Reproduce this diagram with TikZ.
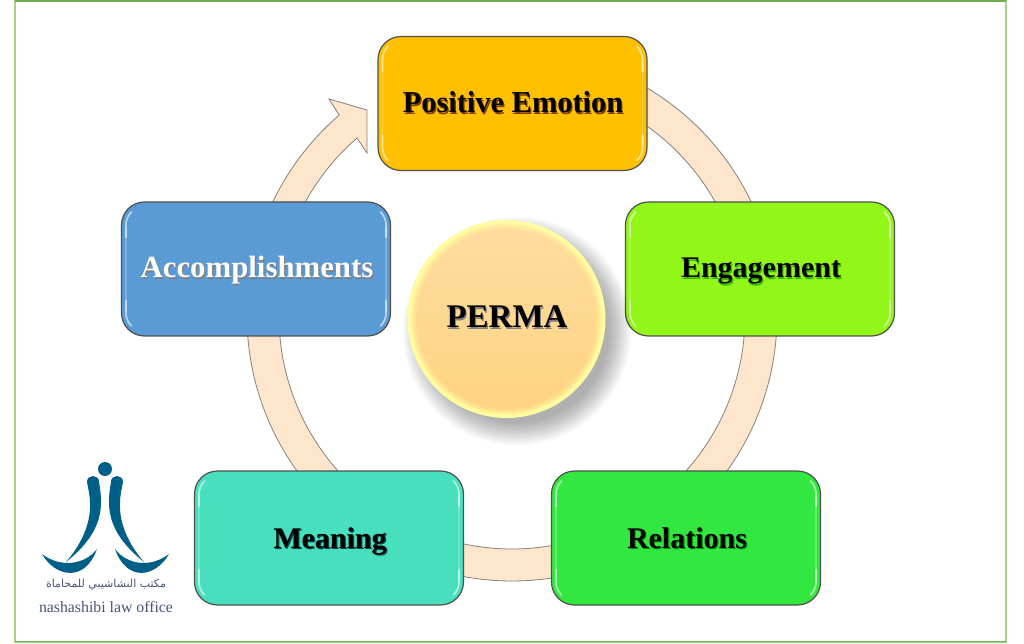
\documentclass[tikz,border=0pt]{standalone}
\usepackage{fontspec}
\setmainfont{Liberation Serif}
\newfontfamily\arabicfont[Script=Arabic]{DejaVu Sans}
\TeXXeTstate=1
\usetikzlibrary{calc}
\definecolor{ringfill}{HTML}{FEE6CC}
\definecolor{ringline}{HTML}{86827C}
\definecolor{boxline}{HTML}{505050}
\definecolor{logoteal}{HTML}{005F87}
\definecolor{logotext}{HTML}{46557F}
\definecolor{frametop}{HTML}{70B04A}
\definecolor{frameside}{HTML}{A9D18E}
\definecolor{permatop}{HTML}{FFDC9E}
\definecolor{permabot}{HTML}{FFD382}
\definecolor{permarim}{HTML}{FFFBA0}
\tikzset{
  x=1pt,y=1pt,
  ringseg/.style={fill=ringfill,draw=ringline,line width=.8pt},
  cardbox/.style={rounded corners=23pt,minimum width=269pt,minimum height=134pt,draw=boxline,line width=1.2pt,inner sep=0pt},
  cardtext/.style={anchor=base,inner sep=0pt},
  logoshape/.style={fill=logoteal,draw=none},
  glint/.style={white,opacity=.55,line width=1.8pt,line cap=round},
  faintglint/.style={white,opacity=.22,line width=1.6pt}
}
\newcommand{\shadowed}[3]{\leavevmode\rlap{\raisebox{-1.2pt}{\kern1.2pt\textcolor{#2}{#3}}}\textcolor{#1}{#3}}
\newcommand{\ringpiece}[2]{\path[ringseg] ($(c)+(#1:265pt)$) arc[start angle=#1,end angle=#2,radius=265pt] -- ($(c)+(#2:233pt)$) arc[start angle=#2,end angle=#1,radius=233pt] -- cycle;}
\begin{document}
\begin{tikzpicture}
\useasboundingbox (0,0) rectangle (1024,643);
\fill[white] (0,0) rectangle (1024,643);
\draw[frameside,line width=2pt] (15,1.5) rectangle (1006,642);
\draw[frametop,line width=1.6pt] (15,642.2) -- (1006,642.2);
\draw[frametop,line width=1.2pt] (15,1.5) -- (1006,1.5);
\coordinate (c) at (512,327);
% ring
\ringpiece{70}{10}
\ringpiece{10}{-50}
\ringpiece{-60}{-120}
\ringpiece{230}{170}
\path[ringseg] ($(c)+(170:265pt)$) arc[start angle=170,end angle=130.7,radius=265pt]
  -- (329,544) -- (367,533) -- (367,490) -- (357,505)
  arc[start angle=131,end angle=170,radius=235.5pt] -- cycle;
% boxes
\node[cardbox,fill={rgb,255:red,255;green,192;blue,0}] (pos) at (512.5,539.5) {};
\node[cardbox,fill={rgb,255:red,146;green,246;blue,24}] (eng) at (760,374) {};
\node[cardbox,fill={rgb,255:red,50;green,232;blue,64}] (rel) at (686,105) {};
\node[cardbox,fill={rgb,255:red,71;green,223;blue,190}] (mea) at (329,105) {};
\node[cardbox,fill={rgb,255:red,91;green,155;blue,213}] (acc) at (256,374) {};
\foreach \b in {pos,eng,rel,mea,acc}{
  \draw[faintglint] ($(\b.north west)+(5,-26)$) -- ($(\b.south west)+(5,26)$);
  \draw[faintglint] ($(\b.north east)+(-5,-26)$) -- ($(\b.south east)+(-5,26)$);
  \draw[glint] ($(\b.north west)+(5,-36)$) -- ($(\b.north west)+(5,-24)$) arc[start angle=180,end angle=135,radius=19pt];
  \draw[glint] ($(\b.south west)+(5,36)$) -- ($(\b.south west)+(5,24)$) arc[start angle=180,end angle=225,radius=19pt];
  \draw[glint] ($(\b.north east)+(-5,-36)$) -- ($(\b.north east)+(-5,-24)$) arc[start angle=0,end angle=45,radius=19pt];
  \draw[glint] ($(\b.south east)+(-5,36)$) -- ($(\b.south east)+(-5,24)$) arc[start angle=0,end angle=-45,radius=19pt];
}
\node[cardtext,font=\fontsize{30.4}{32}\selectfont\bfseries] (post) at (513,530) {\shadowed{black}{black!50!orange}{Positive Emotion}};
\node[cardtext,font=\fontsize{30}{32}\selectfont\bfseries] (engt) at (761,365) {\shadowed{black}{black!40!green!70!lime}{Engagement}};
\node[cardtext,font=\fontsize{30}{32}\selectfont\bfseries] (relt) at (687,95) {\shadowed{black}{black!40!green}{Relations}};
\node[cardtext,font=\fontsize{30}{32}\selectfont\bfseries] (meat) at (330,95) {\shadowed{black}{black!40!teal}{Meaning}};
\node[cardtext,font=\fontsize{30.8}{32}\selectfont\bfseries] (acct) at (257,365) {\shadowed{white}{black!50}{Accomplishments}};
% central circle
\foreach \i in {0,...,16}{
  \fill[black,opacity=.02] (517,312) circle ({92+\i*1.4});
}
\fill[permarim] (506.5,324) circle (99);
\foreach \i in {0,...,3}{
  \shade[top color=permatop,bottom color=permabot,opacity=.3] (506.5,324) circle ({95-\i*1.3});
}
\shade[top color=permatop,bottom color=permabot] (506.5,324) circle (90);
\node[cardtext,font=\fontsize{33}{35}\selectfont\bfseries] (perma) at (507,315) {\shadowed{black}{black!50}{PERMA}};
% logo
\fill[logoshape] (105,174) circle (7);
\fill[logoshape] (66,81) .. controls (80,97) and (91,118) .. (90,140) .. controls (90,148) and (88,155) .. (87,161)
  .. controls (87,169) and (99,169) .. (99,161) .. controls (103,138) and (105,112) .. (66,81) -- cycle;
\fill[logoshape] (144,81) .. controls (130,97) and (119,118) .. (120,140) .. controls (120,148) and (122,155) .. (123,161)
  .. controls (123,169) and (111,169) .. (111,161) .. controls (107,138) and (105,112) .. (144,81) -- cycle;
\fill[logoshape] (42,89) .. controls (55,66) and (85,60) .. (97,94) .. controls (85,78) and (60,75) .. (42,89) -- cycle;
\fill[logoshape] (169,89) .. controls (156,66) and (127,60) .. (115,94) .. controls (127,78) and (151,75) .. (169,89) -- cycle;
\node[text=logotext,font=\arabicfont\fontsize{11}{12}\selectfont,inner sep=0pt] (logoar) at (106,58) {\beginR مكتب النشاشيبي للمحاماة\endR};
\node[text=logotext,font=\fontsize{15.8}{17}\selectfont,inner sep=0pt] (logoen) at (106,36) {nashashibi law office};
\end{tikzpicture}
\end{document}
